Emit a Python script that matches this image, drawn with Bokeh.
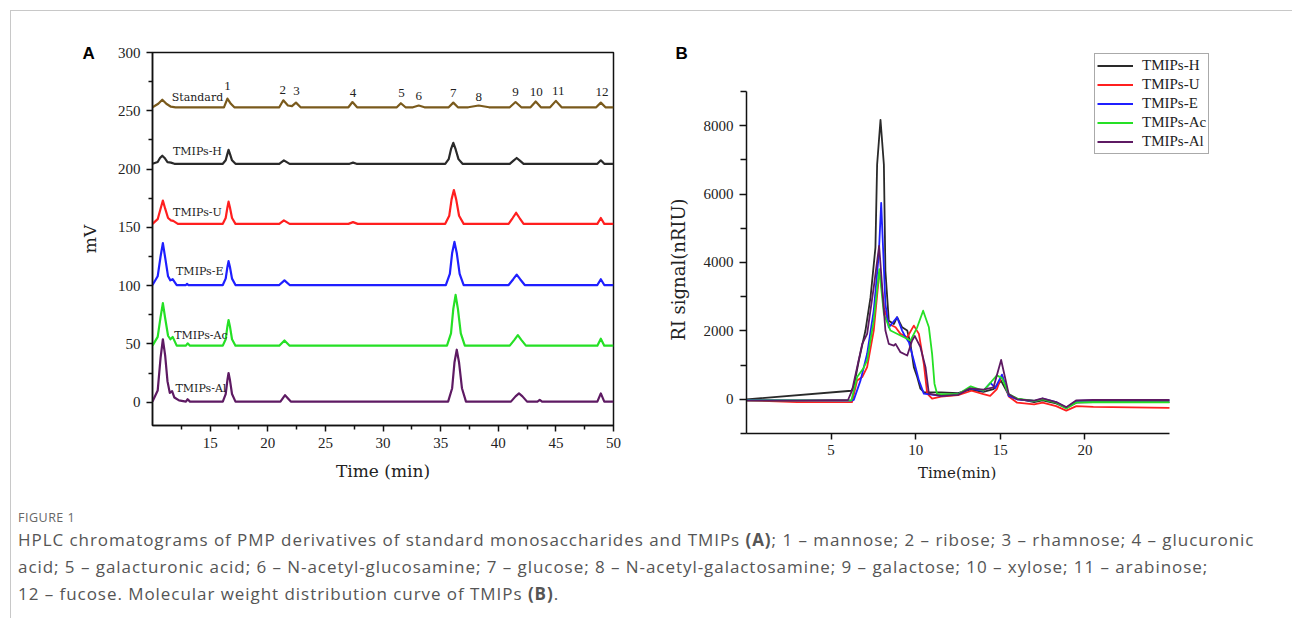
from bokeh.plotting import figure
from bokeh.models import FixedTicker, Legend, LegendItem, Div
from bokeh.layouts import row, column
from bokeh.embed import file_html
from bokeh.resources import INLINE
from bokeh.core.properties import value

# ---------------- Panel A data (HPLC, mV vs min) ----------------
std_t = [10.0, 10.5, 10.85, 11.2, 11.6, 12.0, 16.2, 16.5, 16.8, 17.1, 21.0, 21.35, 21.75, 22.1, 22.45, 22.85,
         27.0, 27.35, 27.75, 31.2, 31.55, 31.95, 32.6, 33.1, 33.6, 35.7, 36.1, 36.5, 37.4, 38.3, 39.2,
         41.0, 41.5, 42.0, 42.8, 43.25, 43.7, 44.5, 45.0, 45.5, 48.5, 48.9, 49.3, 50.0]
std_mv = [253, 256, 259.5, 256, 253.5, 253, 253, 260.5, 256, 253, 253, 259, 254.5, 254, 257, 253,
          253, 257.5, 253, 253, 256.5, 253, 253, 254.5, 253, 253, 257, 253, 253, 254.5, 253,
          253, 257.5, 253, 253, 258, 253, 253, 258.5, 253, 253, 257, 253, 253]

h_t = [10.0, 10.45, 10.65, 10.85, 11.05, 11.3, 11.6, 11.9, 16.1, 16.35, 16.5, 16.6, 16.72, 16.9, 17.2,
       21.0, 21.4, 21.9, 27.1, 27.4, 27.7, 35.4, 35.7, 35.9, 36.1, 36.3, 36.55, 36.9,
       41.0, 41.35, 41.6, 41.85, 42.2, 48.6, 48.9, 49.2, 50.0]
h_mv = [204.5, 206, 209.5, 211.5, 209.5, 206, 205.5, 204.5, 204.5, 207.5, 213, 216.5, 213, 207.5, 204.5,
        204.5, 207.5, 204.5, 204.5, 205.5, 204.5, 204.5, 208.5, 217, 222.5, 217, 208.5, 204.5,
        204.5, 207.5, 209.5, 207.5, 204.5, 204.5, 207.5, 204.5, 204.5]

u_t = [10.0, 10.45, 10.7, 10.9, 11.1, 11.35, 11.6, 11.8, 12.2, 16.1, 16.35, 16.5, 16.6, 16.72, 16.9, 17.2,
       21.0, 21.4, 21.9, 27.0, 27.4, 27.8, 35.4, 35.75, 35.95, 36.15, 36.35, 36.6, 37.0,
       40.9, 41.25, 41.55, 41.85, 42.2, 48.6, 48.9, 49.2, 50.0]
u_mv = [153, 157, 166, 173, 166, 158, 156, 155.5, 153, 153, 158, 167, 172, 167, 158, 153,
        153, 156, 153, 153, 154.5, 153, 153, 160, 174, 182, 174, 160, 153,
        153, 158, 162.5, 158, 153, 153, 158, 153, 153]

e_t = [10.0, 10.45, 10.7, 10.9, 11.1, 11.35, 11.55, 11.75, 12.1, 12.9, 13.0, 13.1, 16.1, 16.35, 16.5, 16.6, 16.72, 16.9, 17.2,
       21.0, 21.45, 21.9, 35.45, 35.8, 36.0, 36.2, 36.4, 36.65, 37.0, 40.9, 41.3, 41.6, 41.9, 42.3, 48.6, 48.9, 49.2, 50.0]
e_mv = [100.5, 108, 125, 136.5, 124, 108, 104.5, 105.5, 100.5, 100.5, 101.5, 100.5, 100.5, 106, 116, 121, 116, 106, 100.5,
        100.5, 104.5, 100.5, 100.5, 110, 128, 137.5, 128, 110, 100.5, 100.5, 105.5, 109.5, 105.5, 100.5, 100.5, 105.5, 100.5, 100.5]

ac_t = [10.0, 10.45, 10.7, 10.9, 11.1, 11.35, 11.55, 11.75, 12.1, 12.9, 13.05, 13.25, 16.1, 16.35, 16.5, 16.6, 16.72, 16.9, 17.2,
        21.0, 21.45, 21.9, 35.55, 35.9, 36.1, 36.3, 36.5, 36.75, 37.1, 41.0, 41.4, 41.7, 42.0, 42.4, 48.6, 48.9, 49.2, 50.0]
ac_mv = [48.5, 56, 73, 85, 72, 57, 54, 56, 48.5, 48.5, 50.5, 48.5, 48.5, 54, 65, 70.5, 65, 54, 48.5,
         48.5, 53, 48.5, 48.5, 59, 80, 92, 80, 59, 48.5, 48.5, 53.5, 57.5, 53.5, 48.5, 48.5, 54.5, 48.5, 48.5]

al_t = [10.0, 10.45, 10.7, 10.9, 11.1, 11.3, 11.5, 11.7, 11.9, 12.3, 12.9, 13.05, 13.25, 16.1, 16.35, 16.5, 16.6, 16.72, 16.9,
        17.2, 21.1, 21.5, 22.0, 35.65, 36.0, 36.2, 36.4, 36.6, 36.85, 37.2, 41.1, 41.5, 41.8, 42.1, 42.5,
        43.4, 43.6, 43.8, 48.6, 48.9, 49.2, 50.0]
al_mv = [0.5, 10, 38, 54, 40, 18, 8, 9.5, 4, 1.5, 0.5, 2.5, 0.5, 0.5, 7, 19, 25, 19, 7,
         0.5, 0.5, 6, 0.5, 0.5, 12, 34, 45, 34, 12, 0.5, 0.5, 5, 7.5, 5, 0.5,
         0.5, 2, 0.5, 0.5, 7.5, 0.5, 0.5]

peak_labels = ["1", "2", "3", "4", "5", "6", "7", "8", "9", "10", "11", "12"]
peak_label_t = [16.5, 21.3, 22.5, 27.4, 31.6, 33.1, 36.1, 38.3, 41.5, 43.3, 45.2, 49.0]
peak_label_mv = [271.5, 267.5, 267, 265, 265, 263, 265.5, 262, 266, 266, 267, 266]

series_names = ["Standard", "TMIPs-H", "TMIPs-U", "TMIPs-E", "TMIPs-Ac", "TMIPs-Al"]
series_name_t = [13.9, 13.9, 13.9, 14.1, 14.2, 14.2]
series_name_mv = [261.8, 214.8, 162.7, 111.7, 57.5, 11.7]

a_xticks = [15, 20, 25, 30, 35, 40, 45, 50]
a_xminor = [12.5, 17.5, 22.5, 27.5, 32.5, 37.5, 42.5, 47.5]
a_yticks = [0, 50, 100, 150, 200, 250, 300]
a_yminor = [25, 75, 125, 175, 225, 275]

# ---------------- Panel B data (RI signal vs min) ----------------
b_names = ["TMIPs-H", "TMIPs-U", "TMIPs-E", "TMIPs-Ac", "TMIPs-Al"]

bh_t = [0, 6.2, 6.34, 6.64, 7.03, 7.33, 7.62, 7.72, 7.92, 8.12, 8.21, 8.41, 8.71, 8.9, 9.2, 9.5, 9.69, 9.89, 10.09, 10.28,
        10.48, 11.5, 12.5, 13.2, 14.0, 14.6, 15.05, 15.5, 16.0, 17.0, 17.5, 18.3, 18.9, 19.5, 20.5, 25.0]
bh_ri = [0, 250, 370, 1135, 2010, 2978, 4434, 6862, 8172, 6862, 3755, 2300, 2200, 2400, 2105, 2010, 1620, 941, 650, 310,
         212, 200, 180, 280, 220, 300, 540, 120, 20, -80, -30, -120, -250, -100, -80, -80]

bu_t = [0, 3, 6.24, 6.54, 6.84, 7.13, 7.52, 7.82, 7.92, 8.12, 8.41, 8.81, 9.1, 9.5, 9.89, 10.19, 10.48, 10.68, 10.97, 11.5,
        12.5, 13.3, 14.0, 14.4, 14.8, 15.1, 15.5, 16.0, 17.0, 17.5, 18.3, 18.9, 19.5, 20.5, 25.0]
bu_ri = [-30, -80, -80, 553, 650, 941, 2010, 3560, 3600, 2687, 2200, 2105, 1913, 1815, 2154, 1913, 1040, 166, 20, 80,
         120, 250, 150, 100, 300, 700, 80, -100, -150, -100, -200, -330, -200, -220, -250]

be_t = [0, 6.2, 6.34, 6.74, 7.13, 7.52, 7.82, 7.96, 8.21, 8.41, 8.9, 9.2, 9.4, 9.6, 9.89, 10.19, 10.48, 11.5, 12.5, 13.2,
        14.0, 14.42, 14.7, 15.1, 15.5, 16.0, 17.0, 17.5, 18.3, 18.9, 19.5, 20.5, 25.0]
be_ri = [-20, -40, -20, 553, 1330, 2590, 4240, 5744, 2785, 2105, 2400, 2010, 1815, 1670, 1135, 553, 166, 100, 150, 320,
         250, 480, 330, 720, 100, 0, -50, 20, -80, -250, -50, -30, -30]

bac_t = [0, 6.2, 6.54, 6.9, 7.13, 7.52, 7.85, 8.12, 8.51, 9.1, 9.69, 10.09, 10.44, 10.78, 10.97, 11.11, 11.27, 12.5, 13.25, 14.0,
         14.8, 15.1, 15.5, 16.0, 17.0, 17.5, 18.3, 18.9, 19.5, 20.5, 25.0]
bac_ri = [-30, -30, 650, 900, 1135, 2300, 3805, 2495, 2010, 1865, 1718, 2105, 2590, 2105, 1330, 457, 150, 150, 380, 250,
          700, 620, 150, 20, -50, 0, -100, -270, -90, -80, -90]

bal_t = [0, 3, 6.0, 6.24, 6.54, 6.84, 7.13, 7.52, 7.84, 8.02, 8.21, 8.41, 8.71, 8.81, 9.1, 9.5, 9.79, 9.95, 10.28, 10.58,
         10.78, 11.5, 12.5, 13.2, 14.0, 14.6, 15.05, 15.5, 16.0, 17.0, 17.5, 18.3, 18.9, 19.5, 20.5, 25.0]
bal_ri = [-40, -40, -20, 262, 941, 1620, 1913, 3270, 4483, 3270, 2010, 1620, 1572, 1620, 1378, 1280, 1718, 1850, 1523, 941,
          166, 100, 130, 320, 280, 350, 1150, 150, 0, -40, 30, -80, -230, -30, -20, -20]

b_xticks = [5, 10, 15, 20]
b_yticks = [0, 2000, 4000, 6000, 8000]
b_yminor = [-1000, 1000, 3000, 5000, 7000, 9000]

# ---------------- styles ----------------
SERIF = "Liberation Serif"
AXLAB = "DejaVu Serif"
NB = "\u00a0"
col_std = "#7a5a1c"
col_h = "#2a2a2a"
col_u = "#ff1f1f"
col_e = "#1f1fff"
col_ac = "#25e025"
col_al = "#5e1a63"


def style_axes(p):
    for ax in (p.xaxis[0], p.yaxis[0]):
        ax.axis_line_color = "#111111"
        ax.axis_line_width = 1.5
        ax.major_tick_line_color = "#111111"
        ax.major_tick_line_width = 1.5
        ax.minor_tick_line_color = "#111111"
        ax.minor_tick_line_width = 1.5
        ax.major_tick_in = 0
        ax.major_tick_out = 6
        ax.minor_tick_in = 0
        ax.minor_tick_out = 4
        ax.major_label_text_font = SERIF
        ax.major_label_text_font_size = "15px"
        ax.major_label_text_color = "#222222"
        ax.axis_label_text_font = AXLAB
        ax.axis_label_text_font_style = "normal"
        ax.axis_label_text_color = "#222222"
    p.grid.visible = False
    p.background_fill_color = "white"
    p.border_fill_color = "white"


def panel_letter(p, letter, offset, standoff):
    p.title.text = letter
    p.title.align = "left"
    p.title.offset = offset
    p.title.standoff = standoff
    p.title.text_font = "Liberation Sans"
    p.title.text_font_style = "bold"
    p.title.text_font_size = "17px"
    p.title.text_color = "#000000"


# ---------------- Panel A ----------------
pA = figure(frame_width=461, frame_height=373, x_range=(10, 50), y_range=(-20, 300),
            min_border_left=141, min_border_right=27, min_border_top=41, min_border_bottom=65,
            frame_align=False, output_backend="svg", toolbar_location=None)
style_axes(pA)
pA.outline_line_color = "#111111"
pA.outline_line_width = 1.5
pA.xaxis.ticker = FixedTicker(ticks=a_xticks, minor_ticks=a_xminor)
pA.yaxis.ticker = FixedTicker(ticks=a_yticks, minor_ticks=a_yminor)
pA.xaxis.axis_label = "Time (min)"
pA.yaxis.axis_label = "mV"
pA.xaxis.axis_label_text_font_size = "17px"
pA.yaxis.axis_label_text_font_size = "17px"
pA.xaxis.major_label_standoff = 6
pA.yaxis.major_label_standoff = 6
pA.xaxis.axis_label_standoff = 10
pA.yaxis.axis_label_standoff = 15
panel_letter(pA, "A", -70, -21)

for t, v, c in [(std_t, std_mv, col_std), (h_t, h_mv, col_h), (u_t, u_mv, col_u),
                (e_t, e_mv, col_e), (ac_t, ac_mv, col_ac), (al_t, al_mv, col_al)]:
    pA.line(t, v, line_color=c, line_width=2.2, line_join="round")

pA.text(x=peak_label_t, y=peak_label_mv, text=peak_labels, text_font=value(SERIF),
        text_font_size="13px", text_align="center", text_baseline="middle", text_color="#222222")
pA.text(x=series_name_t, y=series_name_mv, text=series_names, text_font=value(AXLAB),
        text_font_size="11px", text_align="center", text_baseline="middle", text_color="#222222")

# ---------------- Panel B ----------------
# frame is taller/wider than the drawn axes so the legend fits; axes limited with bounds
pB = figure(frame_width=469, frame_height=385, x_range=(0, 27.72), y_range=(-1000, 10257),
            min_border_left=106, min_border_right=66, min_border_top=37, min_border_bottom=57,
            frame_align=False, output_backend="svg", toolbar_location=None)
style_axes(pB)
pB.outline_line_color = None
pB.xaxis.bounds = (0, 25)
pB.yaxis.bounds = (-1000, 9000)
pB.xaxis.ticker = FixedTicker(ticks=b_xticks)
pB.yaxis.ticker = FixedTicker(ticks=b_yticks, minor_ticks=b_yminor)
pB.yaxis.minor_tick_out = 6
pB.yaxis.major_tick_out = 7
# trailing no-break spaces keep the labels centred on the drawn axis extent
pB.xaxis.axis_label = "Time(min)" + NB * 10
pB.yaxis.axis_label = "RI  signal(nRIU)" + NB * 9
pB.xaxis.axis_label_text_font_size = "15px"
pB.yaxis.axis_label_text_font_size = "18px"
pB.xaxis.major_label_standoff = 5
pB.yaxis.major_label_standoff = 6
pB.xaxis.axis_label_standoff = 6
pB.yaxis.axis_label_standoff = 12
panel_letter(pB, "B", -71, -29)

rs = []
for t, v, c in [(bh_t, bh_ri, col_h), (bu_t, bu_ri, col_u), (be_t, be_ri, col_e),
                (bac_t, bac_ri, col_ac), (bal_t, bal_ri, col_al)]:
    rs.append(pB.line(t, v, line_color=c, line_width=1.8, line_join="round"))

legend = Legend(items=[LegendItem(label=n, renderers=[r]) for n, r in zip(b_names, rs)],
                location=(348, 279), orientation="vertical",
                border_line_color="#555555", border_line_width=1.5,
                padding=2, spacing=0, margin=0, label_height=19, glyph_height=19, glyph_width=36,
                label_standoff=9, label_text_font=SERIF, label_text_font_size="15px",
                label_text_line_height=1.0,
                label_text_color="#222222", background_fill_alpha=1.0)
pB.add_layout(legend)

# ---------------- caption ----------------
cap_html = (
    '<div style="font-family:\'Open Sans\',sans-serif;color:#555555;padding-left:2px;">'
    '<div style="font-size:12.5px;line-height:20px;margin-top:13px;color:#666666;letter-spacing:0.5px;">FIGURE 1</div>'
    '<div style="font-size:17px;line-height:27px;margin-top:-2px;letter-spacing:0.95px;white-space:nowrap;">'
    'HPLC chromatograms of PMP derivatives of standard monosaccharides and TMIPs <b>(A)</b>; 1 – mannose; 2 – ribose; 3 – rhamnose; 4 – glucuronic<br>'
    'acid; 5 – galacturonic acid; 6 – N-acetyl-glucosamine; 7 – glucose; 8 – N-acetyl-galactosamine; 9 – galactose; 10 – xylose; 11 – arabinose;<br>'
    '12 – fucose. Molecular weight distribution curve of TMIPs <b>(B)</b>.'
    '</div></div>'
)
cap = Div(text=cap_html, width=1278, height=118)

layout = column(row(pA, pB), cap, margin=(10, 0, 0, 10),
                styles={"border-top": "1px solid #c8c8c8", "border-left": "1px solid #c8c8c8"})

open("out.html", "w").write(file_html(layout, INLINE))
